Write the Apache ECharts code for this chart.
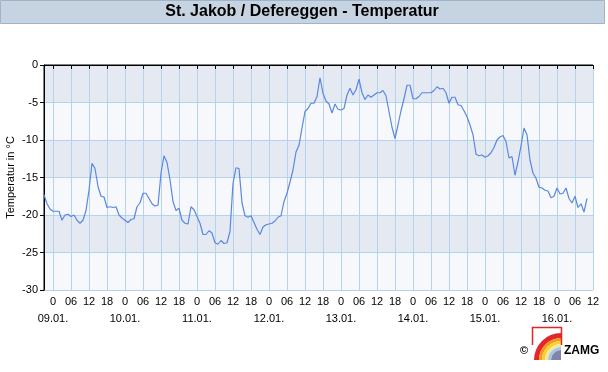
<!DOCTYPE html>
<html>
<head>
<meta charset="utf-8">
<script src="https://cdn.jsdelivr.net/npm/echarts@6/dist/echarts.min.js"></script>
<style>
  html, body { margin: 0; padding: 0; background: #fff; }
  #temp-chart { width: 608px; height: 372px; }
</style>
</head>
<body>
<div id="temp-chart"></div>
<script>
// time axis: hourly steps, starting 08.01. 21:00, ending 16.01. 12:00
var startDay = 8
var startHour = 21
var hourCount = 184
var tickHours = ['0', '06', '12', '18']

// y axis ticks
var yTicks = [-30, -25, -20, -15, -10, -5, 0]

// hourly temperatures in °C
var temps = [
  -17.3, -18.5, -19.2, -19.5, -19.5, -19.5, -20.7, -20.0, -19.9, -20.2,
  -20.0, -20.7, -21.1, -20.7, -19.4, -16.7, -13.1, -13.8, -16.2, -17.5,
  -17.6, -19.0, -18.9, -19.0, -18.9, -20.0, -20.4, -20.7, -21.0, -20.6,
  -20.5, -18.9, -18.4, -17.1, -17.1, -17.8, -18.5, -18.8, -18.7, -14.4,
  -12.1, -13.0, -15.3, -18.2, -19.4, -19.1, -20.7, -21.1, -21.2, -18.9,
  -19.3, -20.2, -21.1, -22.6, -22.6, -22.1, -22.4, -23.7, -23.9, -23.4,
  -23.8, -23.7, -22.2, -15.8, -13.7, -13.8, -18.4, -20.1, -20.3, -20.1,
  -21.0, -21.9, -22.6, -21.6, -21.3, -21.2, -21.1, -20.8, -20.3, -20.1,
  -18.2, -17.1, -15.6, -14.0, -11.6, -10.7, -8.4, -6.2, -5.8, -5.1,
  -5.1, -4.2, -1.7, -3.8, -4.8, -5.2, -6.4, -5.2, -5.9, -6.0,
  -5.8, -4.0, -3.1, -4.0, -3.3, -1.9, -3.7, -4.6, -4.0, -4.3,
  -4.0, -3.7, -3.7, -3.4, -4.1, -6.2, -8.3, -9.8, -8.0, -6.1,
  -4.5, -2.7, -2.7, -4.5, -4.5, -4.2, -3.7, -3.7, -3.7, -3.7,
  -3.4, -2.9, -3.2, -3.1, -3.7, -5.1, -4.3, -4.3, -5.3, -5.4,
  -6.1, -6.9, -8.0, -9.3, -11.9, -12.1, -12.0, -12.3, -12.1, -11.7,
  -11.0, -10.0, -9.6, -9.4, -10.2, -12.4, -12.2, -14.7, -12.9, -10.8,
  -8.4, -9.3, -12.7, -14.4, -15.1, -16.3, -16.4, -16.7, -16.8, -17.7,
  -17.5, -16.4, -17.2, -17.1, -16.4, -17.8, -18.4, -17.5, -19.0, -18.5,
  -19.6, -17.8
]

// build the hourly categories
var categories = []
for (var i = 0; i < hourCount; i++) {
  var t = startHour + i
  var day = startDay + Math.floor(t / 24)
  var hour = t % 24
  categories.push({ day: day, hour: hour })
}
var catNames = categories.map(function (c) {
  return (c.day < 10 ? '0' : '') + c.day + '.01. ' + c.hour
})

function isTick(index) {
  return categories[index].hour % 6 === 0
}
function isMidnight(index) {
  return categories[index].hour === 0
}

function tempChart() {
  var myChart = echarts.init(document.getElementById('temp-chart'))

  var font = '"Liberation Sans", Arial, sans-serif'

  var option = {
    backgroundColor: '#fff',
    animation: false,
    grid: {
      left: 44,
      right: 15,
      top: 65,
      bottom: 82,
      outerBoundsMode: 'none',
      containLabel: false,
      show: true,
      borderColor: '#000',
      borderWidth: 1,
      backgroundColor: 'transparent'
    },
    xAxis: [{
      // hours
      type: 'category',
      data: catNames,
      boundaryGap: false,
      axisLine: { lineStyle: { color: '#000', width: 1 } },
      axisTick: {
        interval: isTick,
        length: 4,
        lineStyle: { color: '#000' }
      },
      axisLabel: {
        interval: isTick,
        hideOverlap: false,
        showMinLabel: true,
        showMaxLabel: true,
        margin: 3,
        color: '#000',
        fontFamily: font,
        fontSize: 11,
        lineHeight: 17,
        formatter: function (value, index) {
          return tickHours[categories[index].hour / 6]
        }
      },
      splitLine: {
        show: true,
        interval: isTick,
        lineStyle: { color: '#b3d3ee', width: 1 }
      }
    }, {
      // dates under the midnight ticks
      type: 'category',
      data: catNames,
      position: 'bottom',
      boundaryGap: false,
      axisLine: { show: false },
      axisTick: { show: false },
      splitLine: { show: false },
      axisLabel: {
        interval: isMidnight,
        hideOverlap: false,
        showMinLabel: true,
        showMaxLabel: true,
        margin: 20,
        color: '#000',
        fontFamily: font,
        fontSize: 11,
        lineHeight: 17,
        formatter: function (value, index) {
          var d = categories[index].day
          return (d < 10 ? '0' : '') + d + '.01.'
        }
      }
    }],
    yAxis: {
      type: 'value',
      min: yTicks[0],
      max: yTicks[yTicks.length - 1],
      interval: 5,
      name: 'Temperatur in °C',
      nameLocation: 'middle',
      nameGap: 28,
      nameMoveOverlap: false,
      nameTextStyle: { color: '#000', fontFamily: font, fontSize: 11 },
      axisLine: { show: true, lineStyle: { color: '#000', width: 1 } },
      axisTick: { show: true, length: 4, lineStyle: { color: '#000' } },
      axisLabel: { color: '#000', fontFamily: font, fontSize: 11, margin: 6 },
      splitLine: { lineStyle: { color: '#b3d3ee', width: 1 } },
      splitArea: {
        show: true,
        areaStyle: { color: ['#f6f8fb', '#e5eaf2'] }
      }
    },
    series: [{
      name: 'Temperatur',
      type: 'line',
      data: temps,
      showSymbol: false,
      symbol: 'none',
      lineStyle: { color: '#5a87e2', width: 1.2 },
      z: 5
    }],
    graphic: [
      // title bar
      {
        type: 'rect',
        shape: { x: 0.5, y: 0.5, width: 604, height: 23 },
        style: { fill: '#c6d3e0', stroke: '#9fb4ca', lineWidth: 1 },
        silent: true
      },
      {
        type: 'text',
        x: 302,
        y: 12,
        style: {
          text: 'St. Jakob / Defereggen - Temperatur',
          fill: '#000',
          font: 'bold 16px ' + font,
          align: 'center',
          verticalAlign: 'middle'
        }
      },
      // ZAMG logo
      {
        type: 'group',
        children: [
          { type: 'sector', shape: { cx: 561, cy: 360, r: 27, r0: 22, startAngle: Math.PI, endAngle: Math.PI * 1.5 }, style: { fill: '#e3262a' } },
          { type: 'sector', shape: { cx: 561, cy: 360, r: 22, r0: 19, startAngle: Math.PI, endAngle: Math.PI * 1.5 }, style: { fill: '#f39a1e' } },
          { type: 'sector', shape: { cx: 561, cy: 360, r: 19, r0: 16, startAngle: Math.PI, endAngle: Math.PI * 1.5 }, style: { fill: '#f8d22c' } },
          { type: 'sector', shape: { cx: 561, cy: 360, r: 16, r0: 13, startAngle: Math.PI, endAngle: Math.PI * 1.5 }, style: { fill: '#f4e7a0' } },
          { type: 'sector', shape: { cx: 561, cy: 360, r: 13, r0: 10, startAngle: Math.PI, endAngle: Math.PI * 1.5 }, style: { fill: '#a9c6e6' } },
          { type: 'sector', shape: { cx: 561, cy: 360, r: 10, r0: 0, startAngle: Math.PI, endAngle: Math.PI * 1.5 }, style: { fill: '#7d86a6' } },
          { type: 'polyline', shape: { points: [[532.5, 345], [532.5, 327.5], [561.5, 327.5], [561.5, 345]] }, style: { stroke: '#e3262a', lineWidth: 1.5, fill: null } },
          { type: 'text', x: 524, y: 351, style: { text: '©', fill: '#000', font: 'bold 11px ' + font, align: 'center', verticalAlign: 'middle' } },
          { type: 'text', x: 564, y: 351, style: { text: 'ZAMG', fill: '#000', font: 'bold 12px ' + font, align: 'left', verticalAlign: 'middle' } }
        ]
      }
    ]
  }

  myChart.setOption(option)
}

tempChart()
</script>
</body>
</html>
